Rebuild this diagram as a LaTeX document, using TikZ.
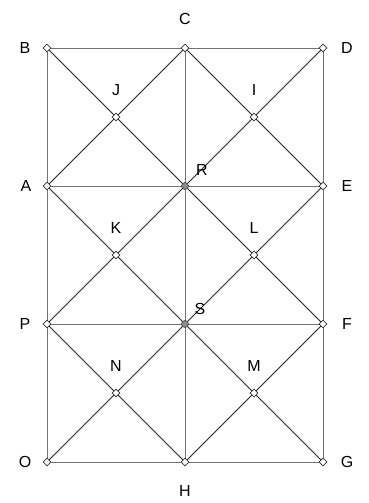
\documentclass[tikz,border=0pt]{standalone}
\usepackage{fontspec}
\setmainfont{Liberation Sans}
\usetikzlibrary{shapes.geometric}
\begin{document}
\begin{tikzpicture}[x=1pt,y=-1pt,
  pt/.style={diamond,draw=black!80,fill=white,inner sep=0pt,minimum size=8pt,line width=0.6pt},
  ctr/.style={circle,draw=black!80,fill=black!45,inner sep=0pt,minimum size=7pt,line width=0.6pt},
  ax/.style={draw=black!55,line width=0.9pt},
  dg/.style={draw=black!85,line width=0.8pt},
  lbl/.style={font=\fontsize{16}{18}\selectfont}]
\useasboundingbox (0,0) rectangle (369,503);
\coordinate (B) at (47,48); \coordinate (C) at (185,48); \coordinate (D) at (323,48);
\coordinate (A) at (47,186); \coordinate (R) at (185,186); \coordinate (E) at (323,186);
\coordinate (P) at (47,324); \coordinate (S) at (185,324); \coordinate (F) at (323,324);
\coordinate (O) at (47,462); \coordinate (H) at (185,462); \coordinate (G) at (323,462);
\coordinate (J) at (116,117); \coordinate (I) at (254,117);
\coordinate (K) at (116,255); \coordinate (L) at (254,255);
\coordinate (N) at (116,393); \coordinate (M) at (254,393);
% axis-parallel lines
\draw[ax] (B) -- (D) -- (G) -- (O) -- cycle;
\draw[ax] (A) -- (E); \draw[ax] (P) -- (F); \draw[ax] (C) -- (H);
% diagonals
\draw[dg] (B) -- (J) -- (R); \draw[dg] (C) -- (J) -- (A);
\draw[dg] (D) -- (I) -- (R); \draw[dg] (C) -- (I) -- (E);
\draw[dg] (A) -- (K) -- (S); \draw[dg] (R) -- (K) -- (P);
\draw[dg] (R) -- (L) -- (F); \draw[dg] (E) -- (L) -- (S);
\draw[dg] (P) -- (N) -- (H); \draw[dg] (S) -- (N) -- (O);
\draw[dg] (S) -- (M) -- (G); \draw[dg] (F) -- (M) -- (H);
% markers
\foreach \p in {B,C,D,A,E,P,F,O,H,G,J,I,K,L,N,M} \node[pt] (m\p) at (\p) {};
\node[ctr] (mR) at (R) {};
\node[ctr] (mS) at (S) {};
% labels
\node[lbl] (lB) at (25,48) {B};
\node[lbl] (lC) at (185,19) {C};
\node[lbl] (lD) at (347,48) {D};
\node[lbl] (lA) at (26,186) {A};
\node[lbl] (lE) at (347,186) {E};
\node[lbl] (lP) at (25,324) {P};
\node[lbl] (lF) at (347,324) {F};
\node[lbl] (lO) at (25,462) {O};
\node[lbl] (lG) at (347,462) {G};
\node[lbl] (lH) at (185,491) {H};
\node[lbl] (lJ) at (116,90) {J};
\node[lbl] (lI) at (254,90) {I};
\node[lbl] (lR) at (202,170) {R};
\node[lbl] (lK) at (116,228) {K};
\node[lbl] (lL) at (254,228) {L};
\node[lbl] (lS) at (200,309) {S};
\node[lbl] (lN) at (116,366) {N};
\node[lbl] (lM) at (254,366) {M};
\end{tikzpicture}
\end{document}
